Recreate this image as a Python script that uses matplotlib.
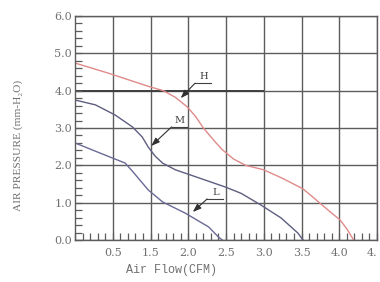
import matplotlib
matplotlib.use("Agg")
import matplotlib.pyplot as plt
from matplotlib.ticker import MultipleLocator

# fan curves (x in grid units, one unit = two grid cells)
flow_h = [0, 0.44, 0.98, 1.17, 1.33, 1.49, 1.60, 1.70, 1.86, 1.95, 2.10, 2.26,
          2.50, 2.75, 3.02, 3.15, 3.26, 3.40, 3.51, 3.60, 3.69]
pres_h = [4.74, 4.47, 4.11, 4.00, 3.82, 3.56, 3.30, 3.00, 2.62, 2.42, 2.17, 2.00,
          1.88, 1.65, 1.37, 1.15, 0.96, 0.72, 0.54, 0.30, 0.0]

flow_m = [0, 0.27, 0.53, 0.76, 0.89, 0.97, 1.06, 1.16, 1.33, 1.46, 1.99, 2.20,
          2.46, 2.73, 2.95, 3.02]
pres_m = [3.75, 3.62, 3.35, 3.03, 2.76, 2.49, 2.25, 2.06, 1.88, 1.79, 1.42, 1.25,
          0.94, 0.59, 0.19, 0.0]

flow_l = [0, 0.33, 0.665, 0.77, 0.97, 1.16, 1.46, 1.77, 1.90, 1.95]
pres_l = [2.60, 2.33, 2.06, 1.82, 1.34, 1.02, 0.72, 0.35, 0.08, 0.0]

x_ticks = [0.5, 1.0, 1.5, 2.0, 2.5, 3.0, 3.5, 4.0]
x_labels = ["0.5", "1.5", "2.0", "2.5", "3.0", "3.5", "4.0", "4."]
y_ticks = [0, 1, 2, 3, 4, 5, 6]
y_labels = ["0.0", "1.0", "2.0", "3.0", "4.0", "5.0", "6.0"]

# curve name, arrow tip, label position
labels = [("H", (1.40, 3.80), (1.70, 4.20)),
          ("M", (1.01, 2.52), (1.39, 3.03)),
          ("L", (1.56, 0.75), (1.86, 1.10))]

grid_c = "#5c5c5c"
text_c = "#707070"

fig = plt.figure(figsize=(3.8, 2.82), dpi=100)
ax = fig.add_axes([75 / 380, 1 - 240 / 282, 302 / 380, 224 / 282])

ax.set_xlim(0, 4.0)
ax.set_ylim(0, 6.0)

ax.plot(flow_h, pres_h, color="#e08a8a", lw=1.0)
ax.plot(flow_m, pres_m, color="#5e5e80", lw=1.0)
ax.plot(flow_l, pres_l, color="#6a6a96", lw=1.0)

# grid
for x in x_ticks:
    ax.axvline(x, color=grid_c, lw=1.0, zorder=0)
for y in y_ticks:
    ax.axhline(y, color=grid_c, lw=1.0, zorder=0)
ax.hlines(4.0, 0, 2.5, color="#404040", lw=1.4, zorder=0)

for s in ax.spines.values():
    s.set_color(grid_c)
    s.set_linewidth(1.0)

ax.set_xticks(x_ticks)
ax.set_xticklabels(x_labels)
ax.set_yticks(y_ticks)
ax.set_yticklabels(y_labels)
ax.xaxis.set_minor_locator(MultipleLocator(0.1))
ax.yaxis.set_minor_locator(MultipleLocator(0.2))
ax.tick_params(which="both", direction="in", color=grid_c, width=0.9, length=5)
ax.tick_params(axis="x", pad=6)
ax.tick_params(axis="y", pad=2)
for t in ax.get_xticklabels() + ax.get_yticklabels():
    t.set_fontfamily("DejaVu Serif")
    t.set_fontsize(8)
    t.set_color(text_c)
ax.get_xticklabels()[-1].set_horizontalalignment("right")

# curve labels with leader arrows
for name, tip, pos in labels:
    x0 = pos[0] - 0.11
    x1 = pos[0] + 0.10
    ax.plot([x0, x1], [pos[1], pos[1]], color="#404040", lw=0.8)
    ax.text(pos[0], pos[1] + 0.05, name, ha="center", va="bottom",
            fontsize=7, family="DejaVu Serif", color="#404040")
    ax.annotate("", xy=tip, xytext=(x0, pos[1]),
                arrowprops=dict(arrowstyle="-|>,head_length=0.5,head_width=0.18",
                                color="#303030", lw=0.8, shrinkA=0, shrinkB=0))

fig.text(18 / 380, 1 - 145 / 282, "AIR PRESSURE (mm-H\u2082O)", rotation=90,
         ha="center", va="center", fontsize=8.2, family="Liberation Serif",
         color=text_c)
fig.text(171 / 380, 1 - 270 / 282, "Air Flow(CFM)", ha="center", va="center",
         fontsize=8.5, family="Liberation Mono", color=text_c)

fig.savefig("out.png", dpi=100, facecolor="white")
